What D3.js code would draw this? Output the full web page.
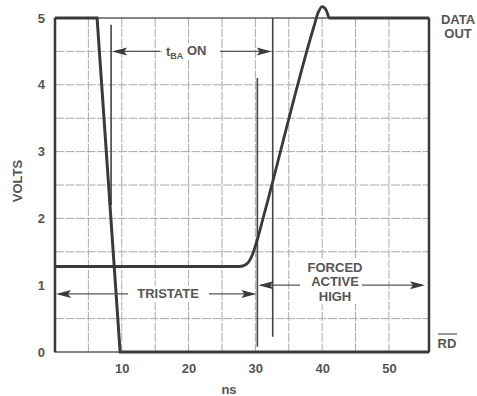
<!DOCTYPE html>
<html>
<head>
<meta charset="utf-8">
<script src="https://cdn.jsdelivr.net/npm/d3@7"></script>
<style>
  body { margin: 0; background: #fff; }
  svg text { font-family: "Liberation Sans", Arial, sans-serif; font-weight: bold; fill: #555; }
</style>
</head>
<body>
<svg id="chart"></svg>
<script>
// Waveforms (time in ns, level in volts)
const rdWave = [[0, 5], [6.3, 5], [9.75, 0], [56, 0]];
const dataOutWave = [
    [0, 1.28], [27.6, 1.28], [28.6, 1.31], [29.4, 1.42], [30.2, 1.65], [31.1, 1.98],
    [38.7, 4.85], [39.4, 5.08], [40.0, 5.17], [40.6, 5.12], [41.1, 5.0], [56, 5.0]
];
const xTicks = [10, 20, 30, 40, 50];
const yTicks = [0, 1, 2, 3, 4, 5];
const xGrid = [5, 10, 15, 20, 25, 30, 35, 40, 45, 50];
const yGrid = [0.5, 1.5, 2, 2.5, 3, 3.5, 4, 4.5];

// Timing markers: [time, from volts, to volts]
const markers = [[8.4, 4.9, 2.2], [30.3, 4.1, 0.08], [32.6, 5.0, 0.23]];

const width = 477, height = 396;
const x = d3.scaleLinear().domain([0, 56]).range([55, 429]);
const y = d3.scaleLinear().domain([0, 5]).range([352, 18]);

const svg = d3.select('#chart')
    .attr('width', width)
    .attr('height', height);

// grid
svg.append('g').selectAll('line')
    .data(xGrid).enter().append('line')
    .attr('x1', d => x(d)).attr('x2', d => x(d))
    .attr('y1', y(5)).attr('y2', y(0))
    .attr('stroke', '#aaa').attr('stroke-width', 1)
    .attr('stroke-dasharray', '9,1.5');

svg.append('g').selectAll('line')
    .data(yGrid).enter().append('line')
    .attr('x1', x(0)).attr('x2', x(56))
    .attr('y1', d => y(d)).attr('y2', d => y(d))
    .attr('stroke', '#aaa').attr('stroke-width', 1)
    .attr('stroke-dasharray', '9,1.5');

// frame
svg.append('rect')
    .attr('x', x(0)).attr('y', y(5))
    .attr('width', x(56) - x(0)).attr('height', y(0) - y(5))
    .attr('fill', 'none').attr('stroke', '#444').attr('stroke-width', 1.3);
svg.append('line')
    .attr('x1', x(0)).attr('x2', x(0)).attr('y1', y(5)).attr('y2', y(0))
    .attr('stroke', '#3a3a3a').attr('stroke-width', 2.5);
svg.append('line')
    .attr('x1', x(56)).attr('x2', x(56)).attr('y1', y(5)).attr('y2', y(0))
    .attr('stroke', '#3a3a3a').attr('stroke-width', 2.5);

// axes
const xAxis = svg.append('g')
    .attr('transform', `translate(0,${y(0)})`)
    .call(d3.axisBottom(x).tickValues(xTicks).tickFormat(d3.format('d')).tickSize(0).tickPadding(12));
const yAxis = svg.append('g')
    .attr('transform', `translate(${x(0)},0)`)
    .call(d3.axisLeft(y).tickValues(yTicks).tickFormat(d3.format('d')).tickSize(0).tickPadding(10));
[xAxis, yAxis].forEach(a => {
    a.select('.domain').remove();
    a.selectAll('text').attr('font-size', 13).attr('font-family', null).attr('fill', null);
});

svg.append('text')
    .attr('transform', 'translate(22,181) rotate(-90)')
    .attr('text-anchor', 'middle')
    .attr('font-size', 13)
    .text('VOLTS');
svg.append('text')
    .attr('x', 229).attr('y', 394)
    .attr('text-anchor', 'middle')
    .attr('font-size', 13)
    .text('ns');

// marker lines
svg.append('g').selectAll('line')
    .data(markers).enter().append('line')
    .attr('x1', d => x(d[0])).attr('x2', d => x(d[0]))
    .attr('y1', d => y(d[1])).attr('y2', d => y(d[2]))
    .attr('stroke', '#444').attr('stroke-width', 1.6);

// waveforms
const line = d3.line().x(d => x(d[0])).y(d => y(d[1]));
svg.append('path')
    .datum(rdWave)
    .attr('fill', 'none').attr('stroke', '#3a3a3a').attr('stroke-width', 3)
    .attr('d', line);
svg.append('path')
    .datum(dataOutWave)
    .attr('fill', 'none').attr('stroke', '#3a3a3a').attr('stroke-width', 2.8)
    .attr('stroke-linejoin', 'round')
    .attr('d', line.curve(d3.curveMonotoneX));

// arrows
function arrowHead(px, py, dir) {
    svg.append('path')
        .attr('d', `M${px},${py} L${px - dir * 15},${py - 4} L${px - dir * 12},${py} L${px - dir * 15},${py + 4} Z`)
        .attr('fill', '#3a3a3a');
}
function shaft(x1, x2, py) {
    svg.append('line')
        .attr('x1', x1).attr('x2', x2).attr('y1', py).attr('y2', py)
        .attr('stroke', '#555').attr('stroke-width', 1.3);
}
function label(lines, cx, cy, lh) {
    const t = svg.append('text').attr('text-anchor', 'middle').attr('font-size', 13);
    lines.forEach((s, i) => {
        t.append('tspan').attr('x', cx).attr('y', cy + i * lh).attr('dy', '0.35em').text(s);
    });
    return t;
}
function whiteBox(x0, y0, w, h) {
    svg.append('rect').attr('x', x0).attr('y', y0).attr('width', w).attr('height', h).attr('fill', '#fff');
}

// tBA ON
{
    const py = y(4.5);
    whiteBox(162, py - 8, 58, 16);
    const t = svg.append('text').attr('x', 166).attr('y', py).attr('dy', '0.35em').attr('font-size', 13);
    t.append('tspan').text('t');
    t.append('tspan').attr('font-size', 9).attr('dy', '0.3em').text('BA');
    t.append('tspan').attr('dy', '-0.25em').text(' ON');
    shaft(x(8.4) + 4, 160, py);
    arrowHead(x(8.4) + 1, py, -1);
    shaft(220, x(32.6) - 4, py);
    arrowHead(x(32.6) - 1, py, 1);
}

// TRISTATE
{
    const py = y(0.87);
    whiteBox(130, py - 8, 77, 16);
    label(['TRISTATE'], 168, py, 0);
    shaft(x(0) + 4, 128, py);
    arrowHead(x(0) + 1, py, -1);
    shaft(209, x(30.3) - 4, py);
    arrowHead(x(30.3) - 1, py, 1);
}

// FORCED ACTIVE HIGH
{
    const py = y(1.0);
    whiteBox(303, 258, 64, 46);
    label(['FORCED', 'ACTIVE', 'HIGH'], 335, 267, 14.5);
    shaft(x(30.3) + 4, 300, py);
    arrowHead(x(30.3) + 1, py, -1);
    shaft(362, 422, py);
    arrowHead(425, py, 1);
}

// signal names
label(['DATA', 'OUT'], 458, 19, 14);
label(['RD'], 447, 343, 0);
svg.append('line')
    .attr('x1', 438).attr('x2', 457).attr('y1', 334).attr('y2', 334)
    .attr('stroke', '#555').attr('stroke-width', 1.2);
</script>
</body>
</html>
